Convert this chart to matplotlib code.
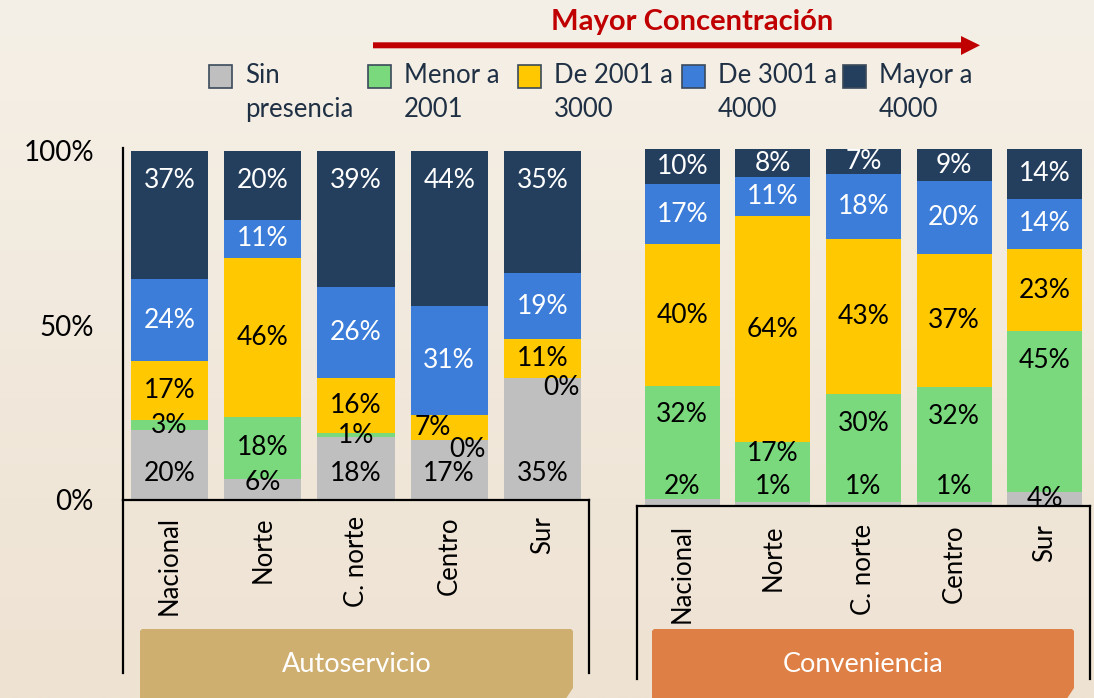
import matplotlib
matplotlib.use("Agg")
import matplotlib.pyplot as plt
import numpy as np
from matplotlib.patches import Polygon, Rectangle
from matplotlib.lines import Line2D

plt.rcParams['font.family'] = ['Lato', 'DejaVu Sans']

categories = ["Nacional", "Norte", "C. norte", "Centro", "Sur"]
series_names = ["Sin\npresencia", "Menor a\n2001", "De 2001 a\n3000", "De 3001 a\n4000", "Mayor a\n4000"]
colors = ["#BFBFBF", "#7AD97D", "#FFC800", "#3C7DD9", "#243F5E"]
text_colors = ["black", "black", "black", "white", "white"]

# Autoservicio (%)
auto_sin = [20, 6, 18, 17, 35]
auto_menor = [3, 18, 1, 0, 0]
auto_2001 = [17, 46, 16, 7, 11]
auto_3001 = [24, 11, 26, 31, 19]
auto_mayor = [37, 20, 39, 44, 35]

# Conveniencia (%)
conv_sin = [2, 1, 1, 1, 4]
conv_menor = [32, 17, 30, 32, 45]
conv_2001 = [40, 64, 43, 37, 23]
conv_3001 = [17, 11, 18, 20, 14]
conv_mayor = [10, 8, 7, 9, 14]

W, H = 1094, 698
fig = plt.figure(figsize=(W / 100, H / 100), dpi=100)


def fx(x):
    return x / W


def fy(y):
    return 1 - y / H


# background gradient
bg = fig.add_axes([0, 0, 1, 1], zorder=-10)
top = np.array([245, 240, 231]) / 255
bot = np.array([238, 226, 210]) / 255
t = np.linspace(0, 1, 256)[:, None]
grad = top[None, :] * (1 - t) + bot[None, :] * t
bg.imshow(grad[:, None, :], aspect='auto', extent=[0, 1, 0, 1])
bg.axis('off')


def draw_panel(ax, data, side):
    vals = np.array(data, dtype=float)
    fr = vals / vals.sum(axis=0)
    x = np.arange(len(categories))
    bottom = np.zeros(len(categories))
    px_unit = ax.bbox.height / (ax.get_ylim()[1] - ax.get_ylim()[0])
    for i in range(len(vals)):
        ax.bar(x, fr[i], bottom=bottom, width=0.83, color=colors[i], linewidth=0, zorder=2)
        for j in range(len(x)):
            seg = fr[i, j]
            b = bottom[j]
            ly = b + seg / 2
            lx = x[j]
            if side == 'auto':
                if i == 0:
                    ly = b + min(26 / px_unit, seg * 0.8)
                elif i == 4:
                    ly = b + seg - 30 / px_unit
                elif i == 2 and vals[1, j] == 0 and seg < 0.1:
                    lx = x[j] - 0.18
                if vals[i, j] == 0:
                    lx = x[j] + 0.2
                    ly = b - 10 / px_unit
            else:
                if i == 0 and seg < 0.03:
                    ly = b + 20 / px_unit
                elif i == 1:
                    ly = b + seg - (29 if seg > 0.25 else 11) / px_unit
            ax.text(lx, ly, f"{vals[i, j]:.0f}%", ha='center', va='center',
                    color=text_colors[i], fontsize=19, zorder=3)
        bottom += fr[i]
    ax.set_xlim(-0.5, len(categories) - 0.5)
    ax.set_xticks(x)
    ax.set_xticklabels(categories, rotation=90, fontsize=18.5)
    ax.patch.set_alpha(0)
    for s in ['top', 'right']:
        ax.spines[s].set_visible(False)
    ax.spines['bottom'].set_linewidth(1.6)
    ax.spines['left'].set_linewidth(1.6)


# left panel: Autoservicio
ax1 = fig.add_axes([fx(123), fy(499.5), fx(466), (499.5 - 148) / H])
ax1.set_ylim(0, (499.5 - 148) / 348.5)
draw_panel(ax1, [auto_sin, auto_menor, auto_2001, auto_3001, auto_mayor], 'auto')
ax1.set_yticks([0, 0.5, 1])
ax1.set_yticklabels(["0%", "50%", "100%"], fontsize=20)
ax1.tick_params(axis='y', length=0, pad=21)
ax1.tick_params(axis='x', length=0, pad=12)

# right panel: Conveniencia
ax2 = fig.add_axes([fx(637), fy(506), fx(453), 357 / H])
ax2.set_ylim(0, 1)
draw_panel(ax2, [conv_sin, conv_menor, conv_2001, conv_3001, conv_mayor], 'conv')
ax2.spines['left'].set_visible(False)
ax2.set_yticks([])
ax2.tick_params(axis='x', length=0, pad=13)

# category box lines below each panel
for x0, x1, ytop, ybot in [(123, 589, 499.5, 673), (637, 1090, 506, 679)]:
    for xx in (x0, x1):
        fig.add_artist(Line2D([fx(xx), fx(xx)], [fy(ytop), fy(ybot)], color='black', lw=1.6))

# bottom banners
for x0, x1, label, col in [(140, 573, "Autoservicio", "#CFAF70"), (652, 1074, "Conveniencia", "#DE7F45")]:
    pts = [(x0, 700), (x0, 631), (x0 + 2, 629), (x1 - 2, 629), (x1, 631), (x1, 688), (x1 - 8, 700)]
    fig.add_artist(Polygon([(fx(a), fy(b)) for a, b in pts], closed=True, color=col, lw=0))
    fig.text(fx((x0 + x1) / 2), fy(665), label, ha='center', va='center', color='white', fontsize=19.5)

# title arrow
fig.text(fx(692), fy(22), "Mayor Concentración", ha='center', va='center',
         color='#C00000', fontsize=21, fontweight='bold')
arrow = [(373, 42.3), (961, 42.3), (961, 36), (980, 45.3), (961, 55), (961, 48.3), (373, 48.3)]
fig.add_artist(Polygon([(fx(a), fy(b)) for a, b in arrow], closed=True, color='#C00000', lw=0))

# legend
leg_x = [209, 368, 518, 682, 843]
for i, name in enumerate(series_names):
    fig.add_artist(Rectangle((fx(leg_x[i]), fy(88)), fx(23), 23 / H, facecolor=colors[i],
                             edgecolor='#3A4A5A', lw=1.2))
    fig.text(fx(leg_x[i] + 36), fy(92.5), name, ha='left', va='center', color='#1F3044',
             fontsize=18.5, linespacing=1.45)

fig.savefig("out.png", dpi=100)
